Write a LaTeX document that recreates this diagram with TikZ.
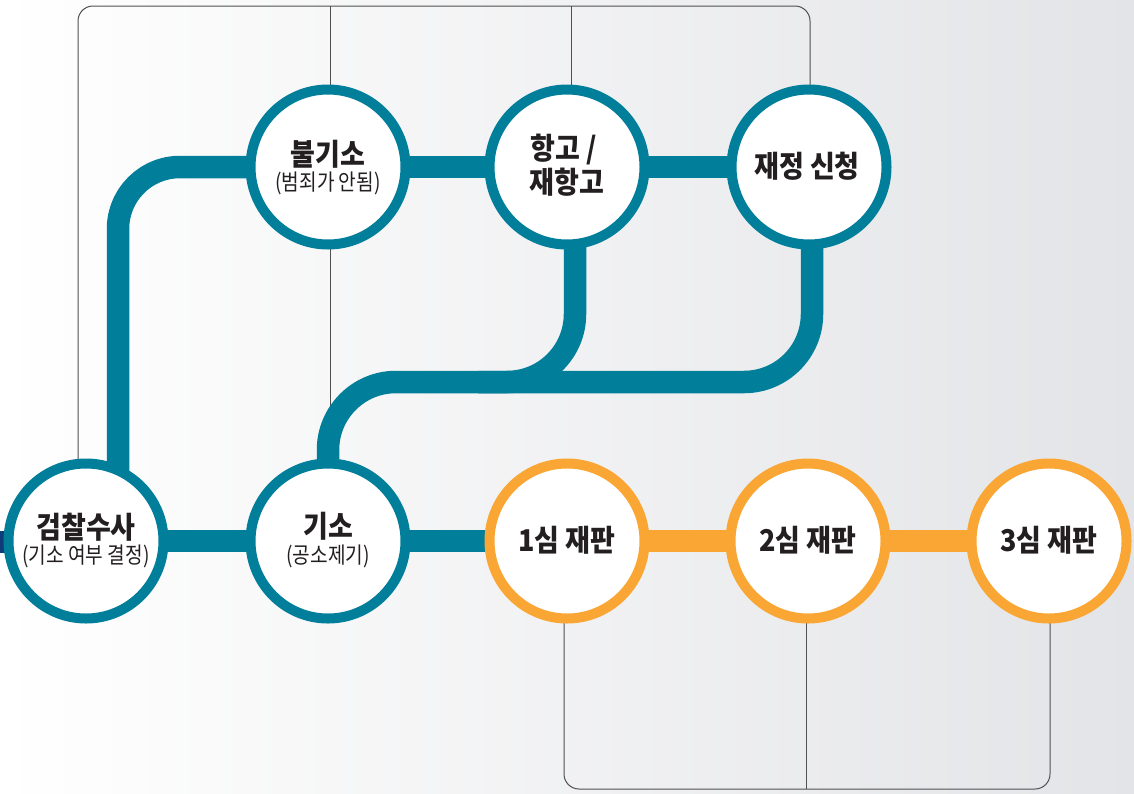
\documentclass[tikz,border=0pt]{standalone}
\usepackage{fontspec}
\newfontfamily\krt{Noto Sans CJK KR}[FakeStretch=0.9]
\newfontfamily\krs{Noto Sans CJK KR}[FakeStretch=0.85]
\usetikzlibrary{calc}
\definecolor{tealc}{HTML}{007E9A}
\definecolor{orangec}{HTML}{F9A634}
\definecolor{navyc}{HTML}{0F3C78}
\definecolor{linec}{HTML}{505050}
\definecolor{txtc}{HTML}{231F20}
\definecolor{bggray}{HTML}{E3E4E7}
\pgfdeclarelayer{bg}
\pgfdeclarelayer{mid}
\pgfsetlayers{bg,mid,main}
\begin{document}
\begin{tikzpicture}[x=1pt,y=-1pt,
  stage/.style={circle, draw=tealc, line width=10pt, fill=white, minimum size=155pt, inner sep=0pt},
  trial/.style={stage, draw=orangec},
  title/.style={font=\krt\bfseries\fontsize{30}{34}\selectfont, text=txtc, inner sep=0pt},
  subt/.style={font=\krs\fontsize{22.5}{26}\selectfont, text=txtc, inner sep=0pt},
  rail/.style={line width=22.5pt, draw=tealc},
  orail/.style={line width=22.5pt, draw=orangec},
  guide/.style={line width=1pt, draw=linec}]
\begin{pgfonlayer}{bg}
  \shade[left color=white, right color=bggray] (0,0) rectangle (1134,793);
  \fill[navyc] (0,531) rectangle (8,553);
\end{pgfonlayer}
% stages
\node[stage] (k) at (86,541) {};
\node[stage] (g) at (328,541) {};
\node[stage] (b) at (328,167) {};
\node[stage] (h) at (567,167) {};
\node[stage] (j) at (809,167) {};
\node[trial] (t1) at (567,541) {};
\node[trial] (t2) at (808,541) {};
\node[trial] (t3) at (1049,541) {};
% coordinates for guides
\coordinate (tl) at (78,6);
\coordinate (tr) at (810,6);
\coordinate (bl) at (564,789);
\coordinate (br) at (1050,789);
\path (g.center) ++(0,-159) coordinate (junc);
\begin{pgfonlayer}{mid}
  \draw[guide, rounded corners=15pt] (k.center -| tl) -- (tl) -- (tr) -- (j.center -| tr);
  \draw[guide] ([xshift=2pt]g.center) -- ([xshift=2pt]g.center |- tl);
  \draw[guide] ([xshift=4pt]h.center) -- ([xshift=4pt]h.center |- tl);
  \draw[guide, rounded corners=15pt] (t1.center -| bl) -- (bl) -- (br) -- (t3.center -| br);
  \draw[guide] ([xshift=-2pt]t2.center) -- ([xshift=-2pt]t2.center |- bl);
  % rails
  \draw[rail] (k.center) -- (g.center) -- (t1.center);
  \draw[orail] (t1.center) -- (t2.center) -- (t3.center);
  \draw[rail] (b.center) -- (h.center) -- (j.center);
  \draw[rail, rounded corners=62pt] ([xshift=32pt]k.center) |- (b.center);
  \draw[rail, rounded corners=68pt] ([xshift=3pt]j.center) |- ($(junc)+(150,0)$);
  \draw[rail, rounded corners=68pt] ([xshift=8pt]h.center) |- (junc) -- (g.center);
\end{pgfonlayer}
% texts
\node[title] (kt) at ([yshift=14pt]k.center) {검찰수사};
\node[subt] (ks) at ([yshift=-15pt]k.center) {(기소 여부 결정)};
\node[title] (gt) at ([yshift=15pt]g.center) {기소};
\node[subt] (gs) at ([yshift=-15pt]g.center) {(공소제기)};
\node[title] (bt) at ([yshift=12.5pt]b.center) {불기소};
\node[subt] (bs) at ([yshift=-16pt]b.center) {(범죄가 안됨)};
\node[title] (ht1) at ([xshift=-3pt,yshift=17pt]h.center) {항고 /};
\node[title] (ht2) at ([yshift=-15pt]h.center) {재항고};
\node[title] (jt) at ([xshift=-2pt,yshift=1pt]j.center) {재정 신청};
\node[title] (t1t) at ([yshift=1pt]t1.center) {1심 재판};
\node[title] (t2t) at ([yshift=1pt]t2.center) {2심 재판};
\node[title] (t3t) at ([yshift=1pt]t3.center) {3심 재판};
\end{tikzpicture}
\end{document}
